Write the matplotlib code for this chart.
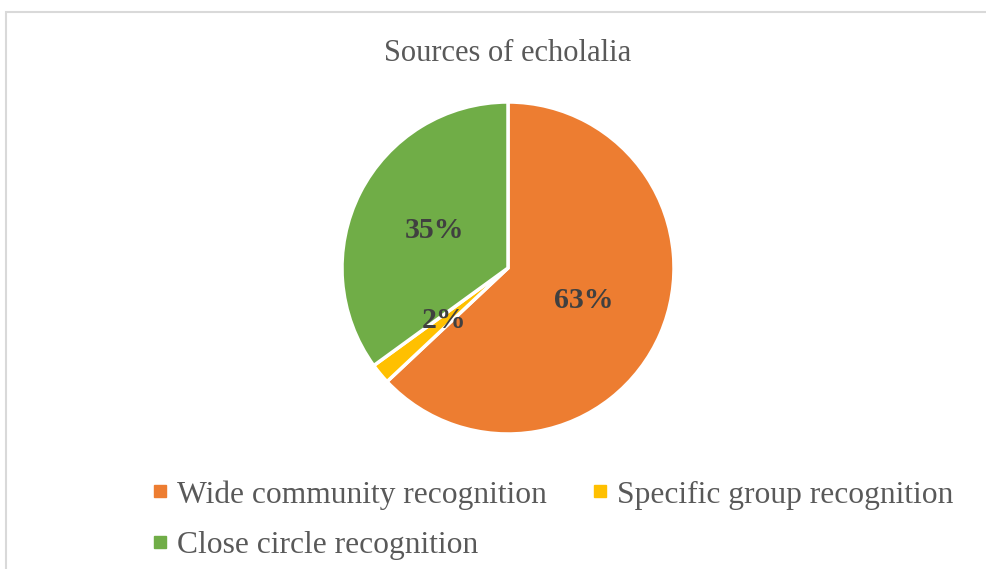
# Pie chart: sources of echolalia
import matplotlib.pyplot as plt
from matplotlib.lines import Line2D
from matplotlib.patches import Rectangle

categories = ['Wide community recognition', 'Specific group recognition', 'Close circle recognition']
shares = [63, 2, 35]
colors = ['#ED7D31', '#FFC000', '#70AD47']

W, H = 987, 569
fig = plt.figure(figsize=(W / 100, H / 100), dpi=100)
ax = fig.add_axes([0, 0, 1, 1])

wedges, texts, autotexts = ax.pie(
    shares, colors=colors, startangle=90, counterclock=False,
    center=(508, H - 268), radius=166, autopct='%.0f%%', pctdistance=0.5,
    wedgeprops=dict(edgecolor='white', linewidth=2.5),
    textprops=dict(family='Liberation Serif', fontsize=21.5, fontweight='bold', color='#404040'))

ax.set_xlim(0, W)
ax.set_ylim(0, H)
ax.set_aspect('equal')
ax.axis('off')

# chart frame
ax.add_patch(Rectangle((6, -20), W + 20, H - 12 + 20, fill=False, edgecolor='#D9D9D9', linewidth=1.5))

ax.text(508, H - 53, 'Sources of echolalia', ha='center', va='center',
        family='Liberation Serif', fontsize=22, color='#595959')

# legend filled row by row: two entries on top, one below
order = [0, 2, 1]
handles = [Line2D([], [], marker='s', linestyle='', markersize=8, color=colors[i]) for i in order]
labels = [categories[i] for i in order]
leg = ax.legend(handles, labels, ncol=2, loc='upper left',
                bbox_to_anchor=(152 / W, 1 - 480 / H), frameon=False,
                prop=dict(family='Liberation Serif', size=22.7),
                handlelength=0.5, handletextpad=0.3, columnspacing=1.43,
                labelspacing=0.68, borderpad=0, borderaxespad=0)
for t in leg.get_texts():
    t.set_color('#595959')

fig.savefig('out.png', dpi=100)
